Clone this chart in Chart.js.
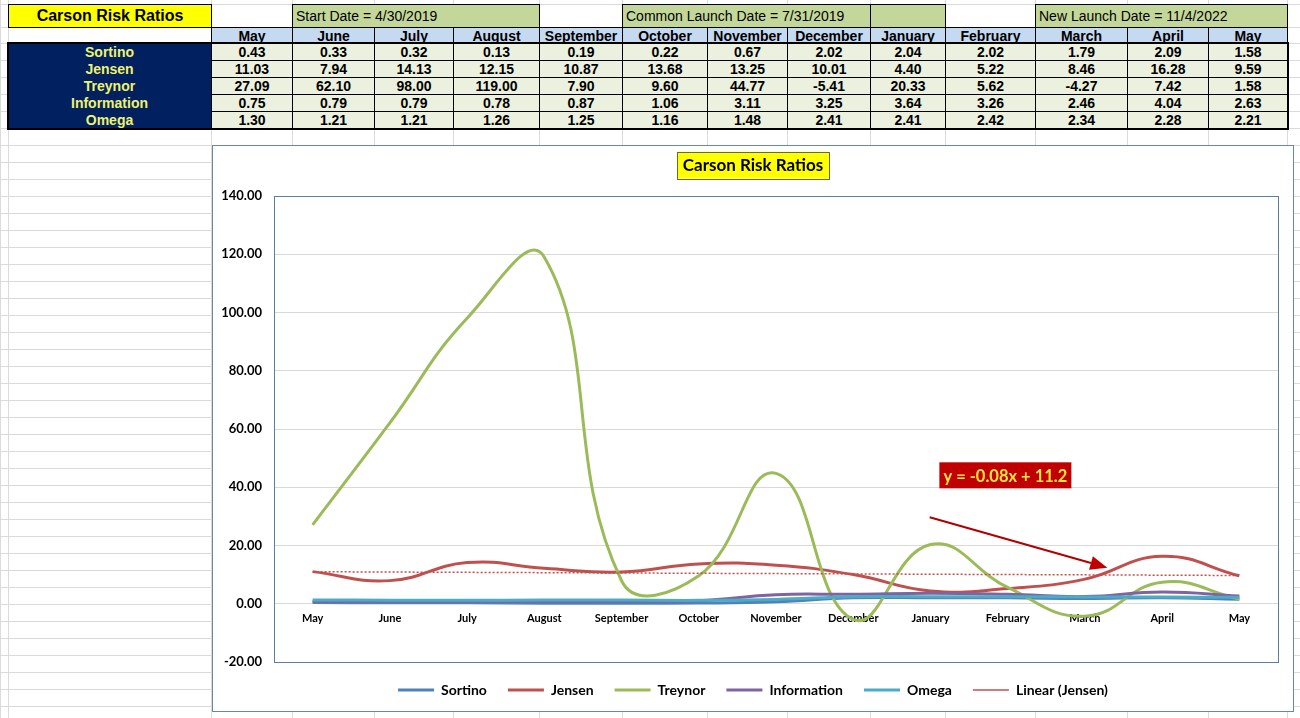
<!DOCTYPE html>
<html>
<head>
<meta charset="utf-8">
<title>Carson Risk Ratios</title>
<script src="https://cdn.jsdelivr.net/npm/chart.js@4.4.1/dist/chart.umd.min.js"></script>
<style>
  html, body { margin: 0; padding: 0; background: #fff; }
  body {
    width: 1300px; height: 718px; position: relative; overflow: hidden;
    font-family: "Liberation Sans Narrow", "Arial Narrow", "Liberation Sans", sans-serif;
  }
  #chartBox {
    position: absolute; left: 212px; top: 145px; width: 1082px; height: 567px;
    box-sizing: border-box; border: 1px solid #6a88a3; background: #fff;
  }
  #chartBox canvas { display: block; }
</style>
</head>
<body>
<div id="sheet"></div>
<div id="chartBox"><canvas id="riskChart"></canvas></div>
<script>
  // months of the table / chart categories
  const months = ["May", "June", "July", "August", "September", "October", "November",
                  "December", "January", "February", "March", "April", "May"];

  const sortino     = [0.43, 0.33, 0.32, 0.13, 0.19, 0.22, 0.67, 2.02, 2.04, 2.02, 1.79, 2.09, 1.58];
  const jensen      = [11.03, 7.94, 14.13, 12.15, 10.87, 13.68, 13.25, 10.01, 4.40, 5.22, 8.46, 16.28, 9.59];
  const treynor     = [27.09, 62.10, 98.00, 119.00, 7.90, 9.60, 44.77, -5.41, 20.33, 5.62, -4.27, 7.42, 1.58];
  const information = [0.75, 0.79, 0.79, 0.78, 0.87, 1.06, 3.11, 3.25, 3.64, 3.26, 2.46, 4.04, 2.63];
  const omega       = [1.30, 1.21, 1.21, 1.26, 1.25, 1.16, 1.48, 2.41, 2.41, 2.42, 2.34, 2.28, 2.21];

  // dotted linear trend of Jensen, first and last month
  const jensenTrend = [11.0, 9.7];

  const yTicks = [-20, 0, 20, 40, 60, 80, 100, 120, 140];

  const rowNames = ["Sortino", "Jensen", "Treynor", "Information", "Omega"];
  const rowValues = [sortino, jensen, treynor, information, omega];

  // ---------- spreadsheet part ----------
  const colX = [0, 8, 211, 292, 374, 453, 539, 622, 707, 787, 870, 945, 1035, 1127, 1208, 1287, 1300];
  const sheet = document.getElementById("sheet");

  function addDiv(css, text) {
    const d = document.createElement("div");
    d.style.cssText = "position:absolute;" + css;
    if (text !== undefined) d.textContent = text;
    sheet.appendChild(d);
    return d;
  }

  // grey grid of the sheet
  colX.forEach(x => addDiv(`left:${x}px;top:0;width:1px;height:718px;background:#dadada`));
  const rowY = [4, 27, 43, 60, 77, 94, 111, 128];
  for (let y = 145; y < 718; y += 17) rowY.push(y);
  rowY.forEach(y => addDiv(`left:0;top:${y}px;width:1300px;height:1px;background:#dadada`));

  function cell(x0, y0, x1, y1, bg, text, extra) {
    return addDiv(
      `left:${x0}px;top:${y0}px;width:${x1 - x0 + 1}px;height:${y1 - y0 + 1}px;box-sizing:border-box;` +
      `background:${bg};border:1px solid #000;display:flex;align-items:center;justify-content:center;` +
      `font-weight:bold;font-size:14px;color:#000;white-space:nowrap;overflow:hidden;${extra || ""}`, text);
  }

  // title row
  cell(8, 4, 211, 27, "#ffff00", "Carson Risk Ratios",
       'font-family:"Liberation Sans",Arial,sans-serif;font-size:16px;');
  const green = "#c4d79b";
  const leftText = "justify-content:flex-start;padding-left:3px;font-weight:normal;";
  cell(colX[3], 4, colX[6], 27, green, "Start Date = 4/30/2019", leftText);
  cell(colX[7], 4, colX[10], 27, green, "Common Launch Date = 7/31/2019", leftText);
  cell(colX[10], 4, colX[11], 27, green, "");
  cell(colX[12], 4, colX[15], 27, green, "New Launch Date = 11/4/2022", leftText);

  // month header row
  months.forEach((m, c) => cell(colX[c + 2], 27, colX[c + 3], 43, "#c5d9f1", m));

  // label column + values
  const dataTop = [43, 60, 77, 94, 111, 128];
  addDiv(`left:8px;top:43px;width:204px;height:86px;box-sizing:border-box;background:#002060;border:1px solid #000`);
  rowNames.forEach((name, r) => {
    addDiv(`left:8px;top:${dataTop[r]}px;width:203px;height:17px;display:flex;align-items:center;` +
           `justify-content:center;font-weight:bold;font-size:14px;color:#f0f26c;white-space:nowrap`, name);
    rowValues[r].forEach((v, c) =>
      cell(colX[c + 2], dataTop[r], colX[c + 3], dataTop[r + 1], "#ebf1de", v.toFixed(2)));
  });
  addDiv(`left:7px;top:42px;width:1282px;height:88px;box-sizing:border-box;border:2px solid #000`);

  // ---------- chart ----------
  const FONT = "Lato, 'Open Sans', sans-serif";

  function series(label, data, color, order) {
    return {
      label, data, order,
      borderColor: color, backgroundColor: color,
      borderWidth: 3, pointRadius: 0, pointHoverRadius: 0,
      tension: 0.45, fill: false
    };
  }

  const trendData = months.map((m, i) =>
    i === 0 ? jensenTrend[0] : (i === months.length - 1 ? jensenTrend[1] : null));

  // yellow box behind the title, plot-area frame
  const framePlugin = {
    id: "frame",
    beforeDraw(chart) {
      const { ctx, titleBlock } = chart;
      const t = chart.options.plugins.title;
      ctx.save();
      ctx.font = `bold ${t.font.size}px ${FONT}`;
      const w = ctx.measureText(t.text).width + 12;
      const cx = (titleBlock.left + titleBlock.right) / 2;
      const cy = titleBlock.top + t.padding.top + t.font.size * 1.2 / 2;
      ctx.fillStyle = "#ffff00";
      ctx.fillRect(cx - w / 2, cy - 13.5, w, 27);
      ctx.strokeStyle = "#5d6a58";
      ctx.lineWidth = 1;
      ctx.strokeRect(Math.round(cx - w / 2) + 0.5, Math.round(cy - 13.5) + 0.5, Math.round(w), 27);
      ctx.restore();
    },
    beforeDatasetsDraw(chart) {
      const { ctx, chartArea: a } = chart;
      ctx.save();
      ctx.strokeStyle = "#5b7f9e";
      ctx.lineWidth = 1;
      ctx.strokeRect(Math.round(a.left) + 0.5, Math.round(a.top) + 0.5,
                     Math.round(a.right - a.left), Math.round(a.bottom - a.top));
      ctx.restore();
    }
  };

  // equation label and arrow, placed in data coordinates
  const notePlugin = {
    id: "note",
    afterDatasetsDraw(chart) {
      const { ctx, scales: { x, y } } = chart;
      ctx.save();
      // arrow
      const x0 = x.getPixelForValue(7.99), y0 = y.getPixelForValue(29.7);
      const x1 = x.getPixelForValue(10.29), y1 = y.getPixelForValue(12.4);
      const ang = Math.atan2(y1 - y0, x1 - x0);
      const head = 17, half = 7;
      const bx = x1 - head * Math.cos(ang), by = y1 - head * Math.sin(ang);
      ctx.strokeStyle = "#b00000";
      ctx.fillStyle = "#c00000";
      ctx.lineWidth = 2;
      ctx.beginPath();
      ctx.moveTo(x0, y0);
      ctx.lineTo(bx, by);
      ctx.stroke();
      ctx.beginPath();
      ctx.moveTo(x1, y1);
      ctx.lineTo(bx + half * Math.sin(ang), by - half * Math.cos(ang));
      ctx.lineTo(bx - half * Math.sin(ang), by + half * Math.cos(ang));
      ctx.closePath();
      ctx.fill();
      // red box with the equation
      const cx = x.getPixelForValue(8.97), cy = y.getPixelForValue(44.1);
      ctx.fillStyle = "#c00000";
      ctx.fillRect(cx - 66, cy - 13, 132, 26);
      ctx.fillStyle = "#ffe640";
      ctx.font = `bold 16.5px ${FONT}`;
      ctx.textAlign = "center";
      ctx.textBaseline = "middle";
      ctx.fillText("y = -0.08x + 11.2", cx, cy + 1);
      ctx.restore();
    }
  };

  new Chart(document.getElementById("riskChart"), {
    type: "line",
    data: {
      labels: months,
      datasets: [
        series("Sortino", sortino, "#4f81bd", 5),
        series("Jensen", jensen, "#c0504d", 4),
        series("Treynor", treynor, "#9bbb59", 3),
        series("Information", information, "#8064a2", 2),
        series("Omega", omega, "#4bacc6", 1),
        {
          label: "Linear (Jensen)", data: trendData, order: 0,
          borderColor: "#c0504d", backgroundColor: "#c0504d",
          borderWidth: 1.5, borderDash: [2, 2], spanGaps: true,
          pointRadius: 0, pointHoverRadius: 0, tension: 0, fill: false
        }
      ]
    },
    options: {
      responsive: true,
      maintainAspectRatio: false,
      animation: false,
      layout: { padding: { left: 0, right: 0, top: 0, bottom: 4 } },
      plugins: {
        title: {
          display: true,
          text: "Carson Risk Ratios",
          color: "#000",
          font: { family: FONT, size: 17, weight: "bold" },
          padding: { top: 9, bottom: 20.6 }
        },
        legend: {
          position: "bottom",
          labels: {
            usePointStyle: true,
            pointStyle: "line",
            pointStyleWidth: 36,
            padding: 21,
            color: "#000",
            font: { family: FONT, size: 14, weight: "bold" },
            sort: (a, b) => a.datasetIndex - b.datasetIndex
          }
        },
        tooltip: { enabled: false }
      },
      scales: {
        x: {
          position: { y: 0 },
          offset: true,
          grid: { display: false, drawTicks: false },
          border: { display: false },
          ticks: {
            color: "#000",
            font: { family: FONT, size: 11, weight: "bold" },
            padding: 8,
            maxRotation: 0,
            autoSkip: false
          }
        },
        y: {
          min: yTicks[0],
          max: yTicks[yTicks.length - 1],
          afterBuildTicks: s => { s.ticks = yTicks.map(v => ({ value: v })); },
          afterFit: s => { s.width = 61; },
          grid: { color: "#d9d9d9", drawTicks: false },
          border: { display: false },
          ticks: {
            color: "#000",
            font: { family: FONT, size: 13, weight: "bold" },
            padding: 12,
            callback: v => Number(v).toFixed(2)
          }
        },
        // empty strip on the right of the plot area
        yRight: {
          position: "right",
          grid: { display: false, drawTicks: false },
          border: { display: false },
          ticks: { display: false },
          afterFit: s => { s.width = 15; }
        }
      }
    },
    plugins: [framePlugin, notePlugin]
  });
</script>
</body>
</html>
